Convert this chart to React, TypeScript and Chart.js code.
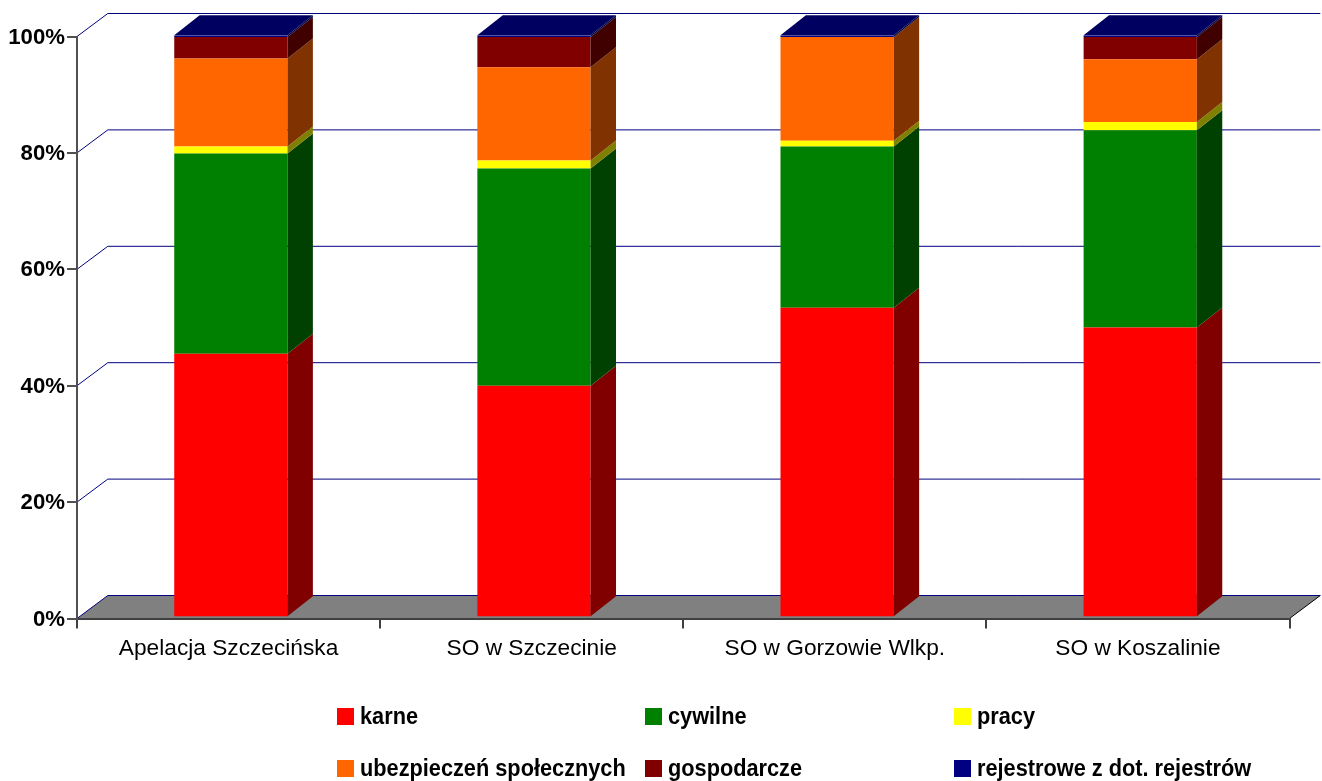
import React, { useEffect, useRef } from "react";
import { Chart, registerables } from "chart.js";

Chart.register(...registerables);

const categories = ["Apelacja Szczecińska", "SO w Szczecinie", "SO w Gorzowie Wlkp.", "SO w Koszalinie"];
const karne = [45.3, 39.8, 53.2, 49.8];
const cywilne = [34.4, 37.3, 27.7, 33.9];
const pracy = [1.2, 1.4, 1.0, 1.4];
const ubezpieczen = [15.1, 16.0, 17.8, 10.8];
const gospodarcze = [3.7, 5.2, 0, 3.8];
const rejestrowe = [0.3, 0.3, 0.3, 0.3];

const seriesColors = ["#ff0000", "#008000", "#ffff00", "#ff6600", "#800000", "#000080"];
const seriesNames = ["karne", "cywilne", "pracy", "ubezpieczeń społecznych", "gospodarcze", "rejestrowe z dot. rejestrów"];
const seriesValues = [karne, cywilne, pracy, ubezpieczen, gospodarcze, rejestrowe];

const FONT = "'Liberation Sans', Arial, sans-serif";
const WALL_DX = 30.8;
const WALL_DY = -23;
const BAR_SHIFT_X = 2.3;
const BAR_SHIFT_Y = -1.2;
const BAR_DX = 25.4;
const BAR_DY = -20;

function shade(hex: string, f: number) {
  const n = parseInt(hex.slice(1), 16);
  const r = Math.round(((n >> 16) & 255) * f);
  const g = Math.round(((n >> 8) & 255) * f);
  const b = Math.round((n & 255) * f);
  return `rgb(${r},${g},${b})`;
}

const wallsPlugin = {
  id: "walls",
  beforeDraw(chart: any) {
    const { ctx, chartArea: a, scales } = chart;
    const y = scales.y;
    const zero = y.getPixelForValue(0);
    ctx.save();
    ctx.fillStyle = "#808080";
    ctx.beginPath();
    ctx.moveTo(a.left, zero);
    ctx.lineTo(a.left + WALL_DX, zero + WALL_DY);
    ctx.lineTo(a.right + WALL_DX, zero + WALL_DY);
    ctx.lineTo(a.right, zero);
    ctx.closePath();
    ctx.fill();
    ctx.lineWidth = 1;
    for (const t of y.ticks) {
      const p = y.getPixelForValue(t.value);
      ctx.strokeStyle = "#000080";
      ctx.beginPath();
      ctx.moveTo(a.left, p);
      ctx.lineTo(a.left + WALL_DX, p + WALL_DY);
      ctx.lineTo(a.right + WALL_DX, p + WALL_DY);
      ctx.stroke();
    }
    ctx.strokeStyle = "#000000";
    ctx.beginPath();
    ctx.moveTo(a.right, zero);
    ctx.lineTo(a.right + WALL_DX, zero + WALL_DY);
    ctx.stroke();
    ctx.restore();
  },
  beforeDatasetsDraw(chart: any) {
    chart.ctx.save();
    chart.ctx.translate(BAR_SHIFT_X, BAR_SHIFT_Y);
  },
  afterDatasetsDraw(chart: any) {
    const { ctx, data } = chart;
    data.datasets.forEach((ds: any, i: number) => {
      const meta = chart.getDatasetMeta(i);
      meta.data.forEach((bar: any, j: number) => {
        if (!ds.data[j]) return;
        const { x, y, base, width } = bar.getProps(["x", "y", "base", "width"], true);
        const r = x + width / 2;
        ctx.fillStyle = shade(ds.backgroundColor, 0.5);
        ctx.beginPath();
        ctx.moveTo(r, y);
        ctx.lineTo(r + BAR_DX, y + BAR_DY);
        ctx.lineTo(r + BAR_DX, base + BAR_DY);
        ctx.lineTo(r, base);
        ctx.closePath();
        ctx.fill();
      });
    });
    const last = data.datasets.length - 1;
    const ds = data.datasets[last];
    chart.getDatasetMeta(last).data.forEach((bar: any) => {
      const { x, y, width } = bar.getProps(["x", "y", "width"], true);
      const l = x - width / 2;
      const r = x + width / 2;
      ctx.fillStyle = shade(ds.backgroundColor, 0.75);
      ctx.beginPath();
      ctx.moveTo(l, y);
      ctx.lineTo(l + BAR_DX, y + BAR_DY);
      ctx.lineTo(r + BAR_DX, y + BAR_DY);
      ctx.lineTo(r, y);
      ctx.closePath();
      ctx.fill();
    });
    ctx.restore();
  },
  afterDraw(chart: any) {
    const { ctx, data } = chart;
    const cols = [337, 645, 954];
    const rows = [708, 760];
    data.datasets.forEach((ds: any, i: number) => {
      const cx = cols[i % 3];
      const cy = rows[Math.floor(i / 3)];
      ctx.save();
      ctx.fillStyle = ds.backgroundColor;
      ctx.fillRect(cx, cy, 17, 17);
      ctx.fillStyle = "#000000";
      ctx.font = `bold 23px ${FONT}`;
      ctx.textBaseline = "middle";
      ctx.textAlign = "left";
      ctx.translate(cx + 23, cy + 10);
      ctx.scale(0.945, 1);
      ctx.fillText(ds.label, 0, 0);
      ctx.restore();
    });
  },
};

export default function App() {
  const ref = useRef<HTMLCanvasElement>(null);
  useEffect(() => {
    const chart = new Chart(ref.current as HTMLCanvasElement, {
      type: "bar",
      data: {
        labels: categories,
        datasets: seriesValues.map((values, i) => ({
          label: seriesNames[i],
          data: values,
          backgroundColor: seriesColors[i],
          borderWidth: 0,
          categoryPercentage: 1,
          barPercentage: 0.3736,
        })),
      },
      options: {
        responsive: false,
        animation: false,
        layout: { padding: { top: 36.5, right: 32.5, left: 0, bottom: 0 } },
        plugins: { legend: { display: false }, tooltip: { enabled: false } },
        scales: {
          x: {
            stacked: true,
            afterFit(s: any) {
              s.height = 162.5;
            },
            grid: { drawOnChartArea: false, color: "#404040", tickLength: 10, lineWidth: 2 },
            border: { color: "#404040", width: 2 },
            ticks: { color: "#000000", font: { family: FONT, size: 22.7 }, padding: 7, maxRotation: 0, autoSkip: false },
          },
          y: {
            stacked: true,
            min: 0,
            max: 100,
            afterFit(s: any) {
              s.width = 77;
            },
            grid: { drawOnChartArea: false, color: "#505050", tickLength: 10, lineWidth: 2 },
            border: { color: "#505050", width: 2 },
            ticks: {
              stepSize: 20,
              color: "#000000",
              font: { family: FONT, size: 22.2, weight: "bold" },
              padding: 2,
              labelOffset: 1,
              callback: (v: any) => `${v}%`,
            },
          },
        },
      },
      plugins: [wallsPlugin],
    } as any);
    return () => chart.destroy();
  }, []);
  return (
    <canvas
      ref={ref}
      width={1322}
      height={781}
      style={{ position: "absolute", left: 0, top: 0, display: "block", width: 1322, height: 781 }}
    />
  );
}
